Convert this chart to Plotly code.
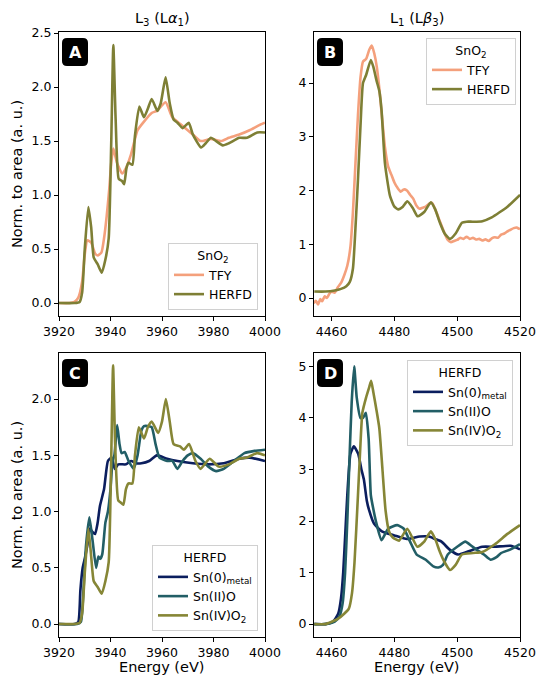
import plotly.graph_objects as go

W, H = 539, 677

# ---------------- data ----------------
# Panel A: L3 edge, SnO2
A_E_tfy = [3920, 3924, 3926, 3927.5, 3929, 3930, 3931, 3932.5, 3934, 3935, 3936.5, 3937.5, 3938.5, 3939.5, 3940.3,
           3941.1, 3942.5, 3944.5, 3946, 3948, 3950.5, 3953, 3956, 3958, 3961.4, 3964, 3967, 3970, 3972, 3975,
           3979, 3983, 3986, 3990, 3994, 3998, 4000]
A_tfy = [0, 0, 0.01, 0.05, 0.2, 0.45, 0.58, 0.56, 0.46, 0.44, 0.47, 0.6, 0.8, 1.05, 1.3,
         1.43, 1.3, 1.2, 1.25, 1.38, 1.6, 1.68, 1.76, 1.78, 1.86, 1.72, 1.66, 1.6, 1.56, 1.5,
         1.52, 1.5, 1.53, 1.56, 1.6, 1.65, 1.67]
A_E_herfd = [3920, 3926, 3928, 3929, 3930, 3931.4, 3932.5, 3933.5, 3935, 3936.6, 3938, 3939.3, 3940.3, 3941.1, 3942,
             3943.2, 3944.5, 3945.3, 3946.2, 3947, 3948.5, 3949.5, 3951.2, 3953, 3954.5, 3956, 3958.2, 3959.5,
             3961.4, 3963, 3964.5, 3966, 3968, 3970.4, 3972, 3975.2, 3977, 3979, 3981, 3983.6, 3986, 3990, 3993,
             3997, 4000]
A_herfd = [0, 0, 0.01, 0.1, 0.5, 0.89, 0.7, 0.42, 0.36, 0.28, 0.4, 0.6, 1.5, 2.39, 1.7,
           1.15, 1.13, 1.1, 1.25, 1.3, 1.28, 1.55, 1.82, 1.72, 1.8, 1.89, 1.78, 1.85,
           2.09, 1.85, 1.7, 1.67, 1.62, 1.67, 1.56, 1.44, 1.48, 1.53, 1.5, 1.46, 1.48, 1.53, 1.53,
           1.58, 1.58]

# Panel B: L1 edge, SnO2
B_E_tfy = [4454.3, 4455, 4455.7, 4456.4, 4457, 4457.8, 4458.5, 4459.3, 4460, 4461, 4462, 4463, 4464, 4465, 4466,
           4466.8, 4467.6, 4468.4, 4469.2, 4470, 4471, 4472, 4472.8, 4473.6, 4474.4, 4475.2, 4476, 4477, 4478,
           4479, 4480, 4481, 4482, 4483, 4484, 4485, 4486, 4487, 4488, 4489, 4490, 4491, 4492, 4493, 4494, 4495,
           4496, 4497, 4498, 4499, 4500, 4501, 4502, 4503, 4504, 4505, 4506, 4507, 4508, 4509, 4510, 4511, 4512,
           4513, 4514, 4515, 4516, 4517, 4518, 4519, 4520]
B_tfy = [-0.1, -0.05, -0.12, -0.02, -0.06, 0.03, 0.0, 0.08, 0.12, 0.1, 0.2, 0.28, 0.42, 0.6, 0.95,
         1.6, 2.5, 3.4, 4.1, 4.4, 4.45, 4.62, 4.7, 4.55, 4.3, 3.9, 3.4, 2.8, 2.45,
         2.3, 2.15, 2.05, 1.98, 2.02, 2.0, 1.92, 1.85, 1.72, 1.66, 1.68, 1.7, 1.75, 1.77, 1.65, 1.5, 1.35,
         1.2, 1.08, 1.04, 1.06, 1.08, 1.12, 1.1, 1.14, 1.1, 1.12, 1.09, 1.1, 1.07, 1.09, 1.06, 1.11, 1.13,
         1.12, 1.18, 1.2, 1.24, 1.27, 1.3, 1.31, 1.28]
B_E_herfd = [4454.5, 4458, 4461, 4463, 4464.7, 4465.8, 4466.8, 4467.6, 4468.4, 4469.2, 4470, 4471, 4472.5, 4473.3,
             4474.3, 4475.2, 4475.9, 4477, 4478.6, 4480, 4481.2, 4482.7, 4484.1, 4485.8, 4487.4, 4489.5, 4491.6,
             4493, 4494.5, 4496, 4497.7, 4499.5, 4501.5, 4503, 4505, 4508, 4511, 4516, 4520]
B_herfd = [0.12, 0.12, 0.14, 0.17, 0.22, 0.3, 0.55, 1.3, 2.2, 3.2, 4.0, 4.15, 4.43, 4.3,
           4.05, 3.85, 3.5, 2.5, 1.9, 1.7, 1.65, 1.7, 1.8, 1.68, 1.52, 1.6, 1.78,
           1.65, 1.4, 1.2, 1.1, 1.2, 1.4, 1.42, 1.42, 1.43, 1.5, 1.7, 1.92]

# Panel C: L3 edge, HERFD
C_E_sn0 = [3920, 3926, 3927.5, 3928.3, 3929.2, 3930, 3931, 3932, 3933, 3934, 3935, 3935.9, 3937.5, 3939, 3940.4,
           3941.7, 3943, 3946, 3948, 3950, 3952, 3955, 3958, 3962, 3966, 3972, 3978, 3984, 3990, 3994, 4000]
C_sn0 = [0, 0, 0.02, 0.3, 0.5, 0.58, 0.7, 0.85, 0.82, 0.8, 0.9, 1.05, 1.2, 1.45, 1.48,
         1.38, 1.42, 1.42, 1.45, 1.43, 1.43, 1.45, 1.5, 1.47, 1.45, 1.43, 1.42, 1.43, 1.47, 1.48, 1.45]
C_E_sn2 = [3920, 3927, 3928.5, 3929.5, 3930.5, 3931.8, 3933, 3934.4, 3935.3, 3936, 3936.8, 3938, 3939, 3940, 3940.8,
           3941.5, 3942.6, 3943.5, 3944.3, 3945.5, 3947, 3949, 3950.5, 3952, 3953, 3954.5, 3956, 3957.5, 3959,
           3962, 3964, 3966, 3968, 3970, 3972, 3975, 3978, 3981, 3984, 3988, 3992, 3996, 4000]
C_sn2 = [0, 0, 0.02, 0.3, 0.7, 0.95, 0.75, 0.5, 0.6, 0.58, 0.62, 0.9, 1.0, 1.2, 1.45,
         1.5, 1.77, 1.6, 1.52, 1.53, 1.45, 1.38, 1.5, 1.72, 1.76, 1.76, 1.75, 1.6, 1.48,
         1.45, 1.45, 1.38, 1.45, 1.5, 1.52, 1.47, 1.4, 1.36, 1.38, 1.45, 1.52, 1.54, 1.55]
C_E_sn4 = [3920, 3926, 3928, 3929, 3930, 3931.4, 3932.5, 3933.5, 3935, 3936.6, 3938, 3939.3, 3940.3, 3941, 3941.8,
           3943, 3944, 3945, 3946, 3947, 3948.5, 3949.5, 3951, 3953, 3954.5, 3956, 3958.5, 3960, 3961.5, 3963,
           3964.5, 3967, 3968.5, 3970.5, 3973, 3975, 3978.5, 3982, 3986, 3990, 3993, 3997, 4000]
C_sn4 = [0, 0, 0.01, 0.1, 0.45, 0.85, 0.6, 0.38, 0.33, 0.27, 0.38, 0.55, 1.5, 2.3, 1.6,
         1.1, 1.08, 1.06, 1.2, 1.25, 1.25, 1.5, 1.75, 1.65, 1.75, 1.8, 1.7, 1.8, 2.0, 1.8,
         1.6, 1.58, 1.55, 1.6, 1.45, 1.38, 1.47, 1.4, 1.42, 1.47, 1.48, 1.52, 1.5]

# Panel D: L1 edge, HERFD
D_E_sn0 = [4454.5, 4458, 4460.5, 4462.1, 4463, 4463.7, 4464.4, 4465, 4466, 4467.1, 4468.5, 4469.5, 4470.3, 4471.2,
           4472, 4473.5, 4476, 4480, 4484, 4488, 4491, 4493, 4495, 4497.5, 4500.3, 4503, 4508, 4512, 4517, 4520]
D_sn0 = [0, 0, 0.05, 0.2, 0.5, 1.0, 1.8, 2.5, 3.3, 3.45, 3.3, 3.0, 2.8, 2.4,
         2.2, 1.95, 1.8, 1.72, 1.65, 1.7, 1.7, 1.65, 1.6, 1.45, 1.35, 1.4, 1.5, 1.5, 1.52, 1.45]
D_E_sn2 = [4454.5, 4458, 4461, 4462.5, 4463.5, 4464.3, 4465, 4465.7, 4466.4, 4467.2, 4468, 4469.2, 4470, 4470.9,
           4471.8, 4472.5, 4473.4, 4474.3, 4475.9, 4478, 4480.9, 4483, 4485, 4487.1, 4490, 4492.4, 4494, 4495.5,
           4497, 4500, 4502.6, 4504.5, 4506, 4508.5, 4510.6, 4512.5, 4514, 4517, 4520]
D_sn2 = [0, 0, 0.05, 0.15, 0.4, 1.0, 2.0, 3.2, 4.3, 5.0, 4.4, 4.0, 4.0, 4.1,
         3.6, 2.5, 2.2, 1.95, 1.63, 1.85, 1.92, 1.85, 1.6, 1.35, 1.25, 1.12, 1.1, 1.15,
         1.35, 1.5, 1.6, 1.52, 1.45, 1.35, 1.25, 1.3, 1.38, 1.45, 1.55]
D_E_sn4 = [4454.5, 4458, 4462, 4464, 4465.5, 4466.5, 4467.3, 4468.4, 4469.2, 4469.8, 4471, 4472, 4472.6, 4473.3,
           4474.3, 4475.2, 4476.2, 4477.2, 4478.3, 4479.5, 4481.5, 4484.1, 4487.3, 4489.5, 4491.6, 4493, 4494.5,
           4496, 4497.7, 4499.5, 4501.5, 4505, 4508, 4512, 4516, 4520]
D_sn4 = [0, 0, 0.1, 0.2, 0.3, 0.6, 1.2, 2.5, 3.5, 4.1, 4.4, 4.6, 4.72, 4.5,
         4.15, 3.8, 3.0, 2.2, 1.8, 1.68, 1.62, 1.85, 1.5, 1.6, 1.8, 1.65, 1.4,
         1.2, 1.05, 1.15, 1.35, 1.38, 1.4, 1.55, 1.75, 1.92]

names_A = ["TFY", "HERFD"]
names_C = ["Sn(0)<sub>metal</sub>", "Sn(II)O", "Sn(IV)O<sub>2</sub>"]
legend_title_A = "SnO<sub>2</sub>"
legend_title_C = "HERFD"
panel_titles = ["L<sub>3</sub> (L<i>α</i><sub>1</sub>)", "L<sub>1</sub> (L<i>β</i><sub>3</sub>)"]
panel_letters = ["A", "B", "C", "D"]
xticks_L3 = [3920, 3940, 3960, 3980, 4000]
xticks_L1 = [4460, 4480, 4500, 4520]

C_TFY = "#F4A07C"
C_HERFD = "#7E7F35"
C_SN0 = "#0B1E5E"
C_SN2 = "#225E66"
C_SN4 = "#868636"

FONT = "DejaVu Sans"
TICK = 12.5
LAB = 14.5
LEG = 12.5
LW = 2.6

fig = go.Figure()

def add(x, y, name, color, xa, ya, leg, show=True):
    fig.add_trace(go.Scatter(x=x, y=y, name=name, mode="lines",
                             line=dict(color=color, width=LW, shape="spline", smoothing=0.5),
                             xaxis=xa, yaxis=ya, legend=leg, showlegend=show))

add(A_E_tfy, A_tfy, names_A[0], C_TFY, "x", "y", "legend")
add(A_E_herfd, A_herfd, names_A[1], C_HERFD, "x", "y", "legend")
add(B_E_tfy, B_tfy, names_A[0], C_TFY, "x2", "y2", "legend2")
add(B_E_herfd, B_herfd, names_A[1], C_HERFD, "x2", "y2", "legend2")
add(C_E_sn0, C_sn0, names_C[0], C_SN0, "x3", "y3", "legend3")
add(C_E_sn2, C_sn2, names_C[1], C_SN2, "x3", "y3", "legend3")
add(C_E_sn4, C_sn4, names_C[2], C_SN4, "x3", "y3", "legend3")
add(D_E_sn0, D_sn0, names_C[0], C_SN0, "x4", "y4", "legend4")
add(D_E_sn2, D_sn2, names_C[1], C_SN2, "x4", "y4", "legend4")
add(D_E_sn4, D_sn4, names_C[2], C_SN4, "x4", "y4", "legend4")

# axes boxes in pixels (left, top, right, bottom)
boxes = {
    1: (59, 32, 265, 316),
    2: (314, 32, 520, 316),
    3: (59, 353, 265, 637),
    4: (314, 353, 520, 637),
}

def xd(b):
    return [b[0] / W, b[2] / W]

def yd(b):
    return [1 - b[3] / H, 1 - b[1] / H]

axis_common = dict(showline=True, mirror=True, linecolor="black", linewidth=1,
                   ticks="outside", ticklen=4, tickwidth=1, tickcolor="black",
                   showgrid=False, zeroline=False, automargin=False,
                   tickfont=dict(family=FONT, size=TICK, color="black"))

yranges = {1: [-0.12, 2.51], 2: [-0.335, 4.95], 3: [-0.115, 2.41], 4: [-0.25, 5.26]}
yticks = {1: [0, 0.5, 1.0, 1.5, 2.0, 2.5], 2: [0, 1, 2, 3, 4], 3: [0, 0.5, 1.0, 1.5, 2.0], 4: [0, 1, 2, 3, 4, 5]}
yfmt = {1: ".1f", 2: "d", 3: ".1f", 4: "d"}

layout = dict(width=W, height=H, margin=dict(l=0, r=0, t=0, b=0),
              paper_bgcolor="white", plot_bgcolor="white",
              font=dict(family=FONT, size=TICK, color="black"))
for i in range(1, 5):
    s = "" if i == 1 else str(i)
    b = boxes[i]
    xr = [3920, 4000] if i in (1, 3) else [4454.4, 4520]
    xt = xticks_L3 if i in (1, 3) else xticks_L1
    layout["xaxis" + s] = dict(domain=xd(b), range=xr, tickvals=xt, anchor="y" + s, **axis_common)
    layout["yaxis" + s] = dict(domain=yd(b), range=yranges[i], tickvals=yticks[i], tickformat=yfmt[i],
                               anchor="x" + s, **axis_common)

def legend_cfg(x, y, xanchor, yanchor, title):
    return dict(x=x, y=y, xanchor=xanchor, yanchor=yanchor, xref="paper", yref="paper",
                bgcolor="rgba(255,255,255,0.85)", bordercolor="#d0d0d0", borderwidth=1,
                font=dict(family=FONT, size=LEG, color="black"), itemwidth=30,
                title=dict(text=title, side="top center", font=dict(family=FONT, size=LEG, color="black")),
                tracegroupgap=0)

layout["legend"] = legend_cfg(258 / W, 1 - 310 / H, "right", "bottom", legend_title_A)
layout["legend2"] = legend_cfg(516 / W, 1 - 38 / H, "right", "top", legend_title_A)
layout["legend3"] = legend_cfg(258 / W, 1 - 631 / H, "right", "bottom", legend_title_C)
layout["legend4"] = legend_cfg(513 / W, 1 - 360 / H, "right", "top", legend_title_C)

annotations = []
shapes = []
# panel titles
annotations.append(dict(text=panel_titles[0], x=162 / W, y=1 - 19 / H, xref="paper", yref="paper",
                        showarrow=False, xanchor="center", yanchor="middle",
                        font=dict(family=FONT, size=LAB, color="black")))
annotations.append(dict(text=panel_titles[1], x=417 / W, y=1 - 19 / H, xref="paper", yref="paper",
                        showarrow=False, xanchor="center", yanchor="middle",
                        font=dict(family=FONT, size=LAB, color="black")))
# y titles
for cy in (174, 495):
    annotations.append(dict(text="Norm. to area (a. u.)", x=17 / W, y=1 - cy / H, xref="paper", yref="paper",
                            showarrow=False, textangle=-90, xanchor="center", yanchor="middle",
                            font=dict(family=FONT, size=LAB, color="black")))
# x titles
for cx in (162, 417):
    annotations.append(dict(text="Energy (eV)", x=cx / W, y=1 - 667 / H, xref="paper", yref="paper",
                            showarrow=False, xanchor="center", yanchor="middle",
                            font=dict(family=FONT, size=LAB, color="black")))

def rrect(x0, y0, x1, y1, r):
    def P(x, y):
        return f"{x / W:.5f},{1 - y / H:.5f}"
    return (f"M {P(x0 + r, y0)} L {P(x1 - r, y0)} Q {P(x1, y0)} {P(x1, y0 + r)} "
            f"L {P(x1, y1 - r)} Q {P(x1, y1)} {P(x1 - r, y1)} L {P(x0 + r, y1)} "
            f"Q {P(x0, y1)} {P(x0, y1 - r)} L {P(x0, y0 + r)} Q {P(x0, y0)} {P(x0 + r, y0)} Z")

for i, letter in zip(range(1, 5), panel_letters):
    b = boxes[i]
    x0, y0 = b[0] + 3, b[1] + 6
    x1, y1 = x0 + 26, y0 + 28
    shapes.append(dict(type="path", path=rrect(x0, y0, x1, y1, 5), xref="paper", yref="paper",
                       fillcolor="black", line=dict(width=0), layer="above"))
    annotations.append(dict(text=f"<b>{letter}</b>", x=(x0 + x1) / 2 / W, y=1 - (y0 + y1) / 2 / H,
                            xref="paper", yref="paper", showarrow=False, xanchor="center", yanchor="middle",
                            font=dict(family=FONT, size=16, color="white")))

layout["annotations"] = annotations
layout["shapes"] = shapes
fig.update_layout(**layout)
fig.write_html("out.html")
